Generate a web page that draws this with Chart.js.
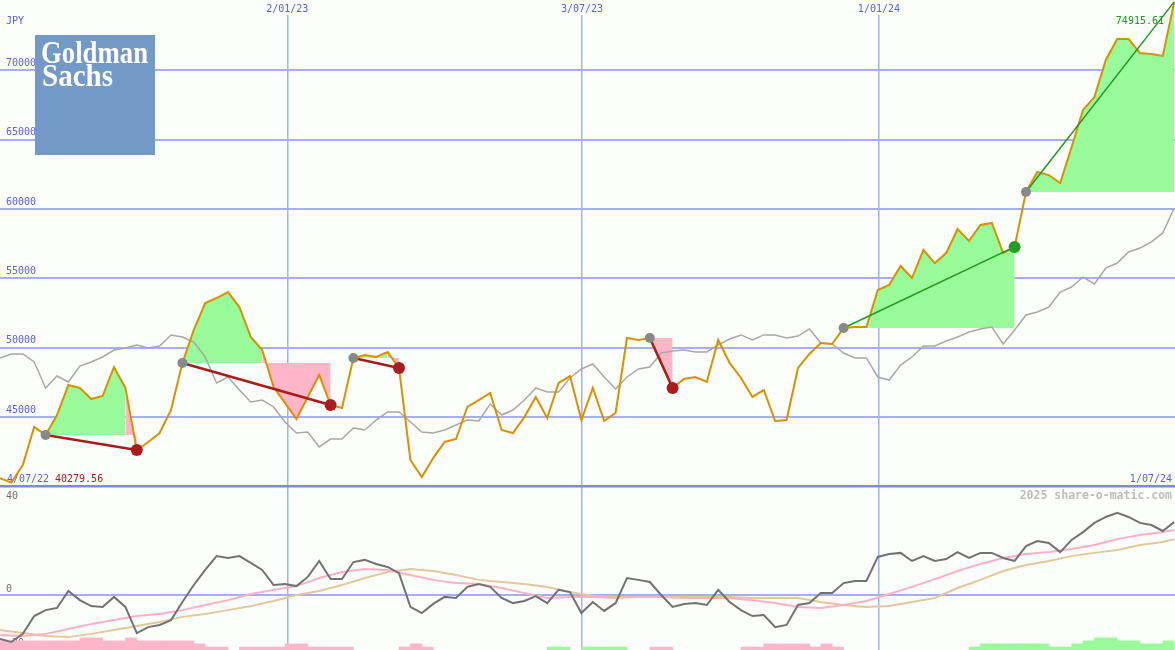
<!DOCTYPE html>
<html>
<head>
<meta charset="utf-8">
<title>Goldman Sachs - JPY</title>
<script src="https://cdn.jsdelivr.net/npm/chart.js@4.4.1/dist/chart.umd.min.js"></script>
<style>
  html, body { margin: 0; padding: 0; background: #fcfefc; }
  #wrap { position: relative; width: 1175px; height: 650px; overflow: hidden; }
  canvas { position: absolute; left: 0; display: block; }
  #priceChart { top: 0; }
  #oscChart { top: 488px; }
</style>
</head>
<body>
<div id="wrap">
  <canvas id="priceChart" width="1175" height="488"></canvas>
  <canvas id="oscChart" width="1175" height="162"></canvas>
</div>
<script>
// x values are week numbers, 0 = first weekly close
const dateTickPos = [25.2, 51.05, 77.1];
const dateTickLabels = ['2/01/23', '3/07/23', '1/01/24'];
const startLabel = '4/07/22';
const endLabel = '1/07/24';
const priceTicks = [40000, 45000, 50000, 55000, 60000, 65000, 70000];
const oscTicks = [40, 0, -20];

// weekly close, JPY
const priceSeries = [
    40600, 40279.56, 41550, 44290, 43710, 45150, 47310, 47100, 46300, 46520,
    48610, 47100, 42630, 43210, 43850, 45510, 48900, 51280, 53220, 53580,
    54010, 52930, 50770, 49830, 47170, 46020, 44860, 46450, 48030, 45870,
    45660, 49260, 49470, 49330, 49690, 48540, 41910, 40680, 42050, 43210,
    43420, 45730, 46230, 46740, 44070, 43850, 45010, 46450, 44940, 47460,
    47960, 44790, 47100, 44720, 45300, 50700, 50560, 50700, 48900, 47100,
    47750, 47890, 47530, 50560, 48900, 47820, 46450, 46950, 44720, 44790,
    48540, 49550, 50340, 50270, 51420, 51490, 51490, 54160, 54520, 55890,
    55020, 57040, 56100, 56820, 58550, 57690, 58840, 58990, 56820, 57260,
    61220, 62660, 62440, 61870, 64460, 67130, 68060, 70730, 72240, 72240,
    71230, 71160, 71020, 74915.61
];

// moving average (grey line)
const averageSeries = [
    49260, 49550, 49550, 48970, 47100, 47960, 47530, 48680, 48970, 49330,
    49830, 49980, 50200, 49980, 50120, 50920, 50770, 50410, 49330, 47460,
    47890, 46950, 46090, 46230, 45730, 44650, 43850, 43930, 42850, 43420,
    43420, 44220, 44070, 44790, 45370, 45370, 44650, 43930, 43850, 44070,
    44430, 44790, 44720, 45940, 45150, 45510, 46230, 47100, 46810, 46810,
    47820, 48470, 48830, 47890, 47030, 47890, 48470, 48610, 49620, 49760,
    49830, 49690, 49690, 50200, 50630, 50920, 50560, 50920, 50920, 50700,
    50840, 51350, 50340, 50270, 49620, 49260, 49260, 47890, 47670, 48750,
    49330, 50120, 50120, 50480, 50770, 51130, 51350, 51490, 50270, 51280,
    52360, 52570, 52930, 54010, 54370, 55090, 54590, 55740, 56100, 56900,
    57180, 57620, 58270, 60070
];

// trades: entry week and exit week
const tradeEntries = [4, 16, 31, 57, 74, 90];
const tradeExits = [12, 29, 35, 59, 89, 103];

// lower panel: oscillator and its two smoothed lines
const oscLine = [
    -16.3, -17.4, -14.4, -7.8, -5.6, -4.8, 1.5, -1.9, -4.1, -4.4,
    -0.7, -4.4, -14.1, -11.9, -11.1, -9.3, -2.6, 3.7, 9.3, 14.4,
    13.7, 14.4, 11.9, 9.3, 3.7, 4.1, 3.3, 6.7, 12.6, 5.9,
    5.9, 12.2, 13.0, 11.5, 10.4, 8.1, -4.4, -6.7, -3.3, -0.7,
    -1.1, 3.0, 4.1, 3.0, -1.1, -3.0, -2.2, -0.4, -3.0, 1.9,
    1.1, -6.7, -2.6, -5.9, -3.0, 6.3, 5.6, 4.8, 0, -4.4,
    -3.3, -3.0, -3.7, 1.9, -2.6, -5.6, -7.8, -7.4, -11.9, -11.1,
    -3.7, -3.0, 0.7, 0.7, 4.4, 5.2, 5.2, 14.1, 15.2, 15.6,
    12.6, 14.4, 12.6, 13.3, 15.9, 13.7, 15.6, 15.6, 13.7, 12.6,
    18.1, 20.0, 19.3, 15.9, 20.4, 23.3, 26.7, 28.9, 30.4, 28.9,
    26.7, 25.9, 23.7, 27.0
];

// smoothed lines, read every second week (last one at the final week)
const pinkLine = [
    -14.8, -15.2, -14.4, -12.6, -10.7, -9.3, -7.8, -7.0, -5.6, -3.7,
    -1.9, 0.4, 1.9, 3.3, 6.3, 8.5, 9.6, 9.3, 7.4, 5.6,
    4.4, 4.1, 2.6, 0.7, -1.1, -0.7, -0.7, -1.1, -0.7, -0.7,
    -1.1, -1.1, -1.1, -1.9, -3.0, -4.4, -4.8, -3.7, -2.2, 0.4,
    3.0, 5.9, 8.9, 11.5, 13.7, 15.2, 15.9, 17.0, 18.5, 20.7,
    22.2, 23.3, 24.1
];
const tanLine = [
    -13.0, -14.1, -15.2, -15.6, -14.4, -13.0, -11.5, -10.0, -8.1, -7.0,
    -5.6, -4.1, -2.2, 0, 1.5, 3.7, 6.3, 8.5, 9.6, 8.9,
    7.4, 5.6, 4.8, 4.1, 3.0, 1.1, -0.4, -0.7, -0.7, -0.7,
    -0.7, -0.7, -0.7, -1.1, -1.1, -1.1, -2.6, -3.7, -4.4, -4.1,
    -2.6, -1.1, 2.6, 5.6, 8.9, 11.1, 12.6, 14.4, 15.6, 16.7,
    18.5, 19.6, 20.7
];

// histogram strip at the bottom (top of each weekly bar)
const lossBars = [
    -17.0, -17.0, -17.0, -17.0, -17.0, -17.0, -17.0, -15.9, -15.9, -17.0,
    -17.0, -15.9, -17.0, -17.0, -17.0, -17.0, -17.0, -18.1, -19.3, -19.3,
    null, -19.3, -19.3, -19.3, -19.3, -18.1, -18.1, -19.3, -19.3, -19.3,
    -19.3, null, null, null, null, -19.3, -18.1, -19.3, null, null,
    null, null, null, null, null, null, null, null, null, null,
    null, null, null, null, null, null, null, -19.3, -19.3, null,
    null, null, null, null, null, -19.3, -19.3, -18.1, -18.1, -18.1,
    -18.1, -19.3, -18.1, -19.3, null, null, null, null, null, null,
    null, null, null, null, null, null, null, null, null, null,
    null, null, null, null, null, null, null, null, null, null,
    null, null, null, null
];
const gainBars = [
    null, null, null, null, null, null, null, null, null, null,
    null, null, null, null, null, null, null, null, null, null,
    null, null, null, null, null, null, null, null, null, null,
    null, null, null, null, null, null, null, null, null, null,
    null, null, null, null, null, null, null, null, -19.3, -19.3,
    null, -19.3, -19.3, -19.3, -19.3, null, null, null, null, null,
    null, null, null, null, null, null, null, null, null, null,
    null, null, null, null, null, null, null, null, null, null,
    null, null, null, null, null, -19.3, -18.1, -18.1, -18.1, -18.1,
    -18.1, -18.1, -19.3, -19.3, -18.1, -17.0, -15.9, -15.9, -17.0, -17.0,
    -18.1, -18.1, -17.0, null
];

// colours
const BG = '#fcfefc';
const GRID = '#a4b0f0';
const AXIS_TEXT = '#5c5cf2';
const PRICE_COLOR = '#dc9000';
const AVG_COLOR = '#a8a8a8';
const GAIN_FILL = '#98fa98';
const LOSS_FILL = '#ffb6c8';
const LOSS_LINE = '#a81c1c';
const GAIN_LINE = '#1f9a1f';
const ENTRY_DOT = '#888888';
const MONO = '10px "DejaVu Sans Mono"';

const X_MAX = 103.07;
const OSC_MIN = -20.37;

// shared x axis: only the date grid lines
function dateAxis() {
    return {
        type: 'linear',
        min: 0,
        max: X_MAX,
        offset: false,
        afterBuildTicks: s => { s.ticks = dateTickPos.map(v => ({ value: v })); },
        afterFit: s => {
            s.height = 0;
            s.paddingLeft = 0;
            s.paddingRight = 0;
        },
        ticks: { display: false },
        grid: { color: GRID, lineWidth: 1.5, drawTicks: false, offset: false },
        border: { display: false }
    };
}

// y axes take no room: labels are drawn inside the plot
function flatY(s) {
    s.width = 0;
    s.paddingTop = 0;
    s.paddingBottom = 0;
}

const baseOptions = {
    responsive: false,
    animation: false,
    devicePixelRatio: 1,
    events: [],
    layout: { padding: 0, autoPadding: false },
    elements: { line: { tension: 0 }, point: { radius: 0 } },
    plugins: { legend: { display: false }, tooltip: { enabled: false } }
};

// texts of the price panel
const priceTextPlugin = {
    id: 'priceText',
    beforeDatasetsDraw(chart) {
        const { ctx, chartArea, scales } = chart;
        ctx.save();
        ctx.font = MONO;
        ctx.textBaseline = 'middle';
        ctx.textAlign = 'center';
        dateTickPos.forEach((v, k) => {
            const x = scales.x.getPixelForValue(v);
            ctx.fillStyle = BG;
            ctx.fillRect(x - 2, 0, 4, 15);
            ctx.fillStyle = AXIS_TEXT;
            ctx.fillText(dateTickLabels[k], x, 9);
        });
        ctx.textAlign = 'left';
        ctx.fillText('JPY', 6, 21);
        const lowY = chartArea.bottom - 9;
        ctx.fillText(startLabel, 7, lowY);
        ctx.fillStyle = LOSS_LINE;
        ctx.fillText(Math.min(...priceSeries).toFixed(2), 55, lowY);
        ctx.textAlign = 'right';
        ctx.fillStyle = AXIS_TEXT;
        ctx.fillText(endLabel, chartArea.right - 3, lowY);
        ctx.fillStyle = GAIN_LINE;
        ctx.fillText(Math.max(...priceSeries).toFixed(2), 1164, 21);

        // logo
        ctx.fillStyle = '#7399c7';
        ctx.fillRect(35, 35, 120, 120);
        ctx.fillStyle = '#ffffff';
        ctx.textAlign = 'left';
        ctx.textBaseline = 'alphabetic';
        ctx.font = 'bold 32px "Liberation Serif"';
        ctx.fillText('Goldman', 41, 63, 107);
        ctx.fillText('Sachs', 42, 86, 71);
        ctx.restore();
    }
};

// texts of the lower panel
const oscTextPlugin = {
    id: 'oscText',
    beforeDatasetsDraw(chart) {
        const { ctx, chartArea, scales } = chart;
        ctx.save();
        ctx.font = MONO;
        ctx.textBaseline = 'middle';
        ctx.fillStyle = '#707070';
        oscTicks.forEach(v => {
            const y = Math.max(scales.y.getPixelForValue(v) - 6, chartArea.top + 8);
            ctx.fillText(String(v), 6, y);
        });
        ctx.textAlign = 'right';
        ctx.font = 'bold 11.5px "DejaVu Sans Mono"';
        ctx.fillStyle = '#bdbdbd';
        ctx.fillText('2025 share-o-matic.com', chartArea.right - 3, chartArea.top + 8);
        ctx.restore();
    }
};

// trade lines with entry / exit dots
const tradeSets = tradeEntries.map((start, k) => {
    const end = tradeExits[k];
    const open = end === priceSeries.length - 1;
    const won = priceSeries[end] > priceSeries[start];
    return {
        data: [{ x: start, y: priceSeries[start] }, { x: end, y: priceSeries[end] }],
        borderColor: won ? GAIN_LINE : LOSS_LINE,
        borderWidth: won ? 1.5 : 2.5,
        pointRadius: [5, open ? 0 : 6],
        pointBackgroundColor: [ENTRY_DOT, won ? '#22a022' : '#aa1c1c'],
        pointBorderWidth: 0,
        order: 0
    };
});

// shaded area between price and the entry level
const fillSets = tradeEntries.map((start, k) => {
    const end = tradeExits[k];
    const level = priceSeries[start];
    return {
        data: priceSeries.slice(start, end + 1).map((v, j) => ({ x: start + j, y: v })),
        borderColor: 'rgba(0,0,0,0)',
        borderWidth: 0,
        backgroundColor: GAIN_FILL,
        fill: { target: { value: level } },
        segment: {
            backgroundColor: c => c.p1.parsed.y >= level ? GAIN_FILL : LOSS_FILL
        },
        order: 3
    };
});

new Chart(document.getElementById('priceChart'), {
    type: 'line',
    data: {
        datasets: [
            ...tradeSets,
            {
                data: priceSeries.map((v, i) => ({ x: i, y: v })),
                borderColor: PRICE_COLOR,
                borderWidth: 2,
                order: 1
            },
            {
                data: averageSeries.map((v, i) => ({ x: i, y: v })),
                borderColor: AVG_COLOR,
                borderWidth: 1.5,
                order: 2
            },
            ...fillSets
        ]
    },
    options: {
        ...baseOptions,
        scales: {
            x: dateAxis(),
            y: {
                min: 39892,
                max: 75052,
                afterBuildTicks: s => { s.ticks = priceTicks.map(v => ({ value: v })); },
                afterFit: flatY,
                ticks: {
                    mirror: true,
                    padding: 6,
                    labelOffset: -7,
                    color: AXIS_TEXT,
                    font: { family: 'DejaVu Sans Mono', size: 10 },
                    callback: v => v === priceTicks[0] ? '' : String(v)
                },
                grid: {
                    drawTicks: false,
                    color: c => c.tick.value === priceTicks[0] ? '#7a8ae8' : GRID,
                    lineWidth: c => c.tick.value === priceTicks[0] ? 2.5 : 2
                },
                border: { display: false }
            }
        }
    },
    plugins: [priceTextPlugin]
});

const smoothPos = pinkLine.map((_, k) => Math.min(k * 2, priceSeries.length - 1));
const toBars = arr => arr.map((v, i) => ({ x: i + 0.5, y: v })).filter(p => p.y !== null);

new Chart(document.getElementById('oscChart'), {
    type: 'line',
    data: {
        datasets: [
            {
                data: oscLine.map((v, i) => ({ x: i, y: v })),
                borderColor: '#727272',
                borderWidth: 2,
                order: 0
            },
            {
                data: pinkLine.map((v, k) => ({ x: smoothPos[k], y: v })),
                borderColor: '#ffb0c4',
                borderWidth: 2,
                order: 1
            },
            {
                data: tanLine.map((v, k) => ({ x: smoothPos[k], y: v })),
                borderColor: '#e3c99a',
                borderWidth: 2,
                order: 2
            },
            {
                type: 'bar',
                data: toBars(lossBars),
                backgroundColor: LOSS_FILL,
                base: OSC_MIN,
                grouped: false,
                barPercentage: 1,
                categoryPercentage: 1,
                order: 3
            },
            {
                type: 'bar',
                data: toBars(gainBars),
                backgroundColor: GAIN_FILL,
                base: OSC_MIN,
                grouped: false,
                barPercentage: 1,
                categoryPercentage: 1,
                order: 3
            }
        ]
    },
    options: {
        ...baseOptions,
        scales: {
            x: dateAxis(),
            y: {
                min: OSC_MIN,
                max: 39.63,
                // only the zero line is drawn
                afterBuildTicks: s => { s.ticks = [{ value: 0 }]; },
                afterFit: flatY,
                ticks: { display: false },
                grid: { color: GRID, lineWidth: 2, drawTicks: false },
                border: { display: false }
            }
        }
    },
    plugins: [oscTextPlugin]
});
</script>
</body>
</html>
